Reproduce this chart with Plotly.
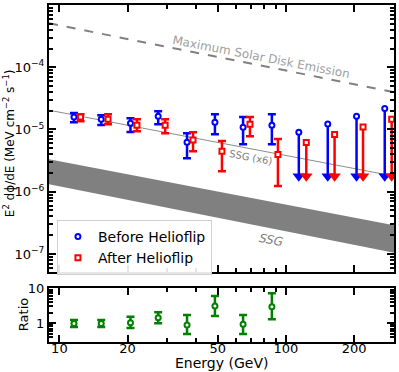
import plotly.graph_objects as go
from plotly.subplots import make_subplots

# energies (GeV)
energy_before = [11.6, 15.3, 20.6, 27.3, 36.6, 48.6, 64.7, 86.7]
energy_after = [12.4, 16.4, 22.0, 29.3, 38.9, 52.2, 69.4, 92.2]
energy_before_ul = [114, 153, 205, 273]
energy_after_ul = [123, 164, 219, 293]

# E^2 dphi/dE (MeV cm^-2 s^-1)
before_flux = [1.58e-5, 1.46e-5, 1.26e-5, 1.63e-5, 6.25e-6, 1.31e-5, 1.09e-5, 1.17e-5]
before_hi = [1.84e-5, 1.70e-5, 1.52e-5, 1.97e-5, 8.7e-6, 1.76e-5, 1.58e-5, 1.76e-5]
before_lo = [1.31e-5, 1.18e-5, 9.1e-6, 1.21e-5, 3.46e-6, 8.4e-6, 5.8e-6, 5.8e-6]
before_ul = [9.0e-6, 1.22e-5, 1.63e-5, 2.17e-5]

after_flux = [1.58e-5, 1.46e-5, 1.17e-5, 1.17e-5, 6.75e-6, 4.46e-6, 1.21e-5, 3.98e-6]
after_hi = [1.76e-5, 1.76e-5, 1.46e-5, 1.46e-5, 9.06e-6, 6.5e-6, 1.58e-5, 7.0e-6]
after_lo = [1.36e-5, 1.21e-5, 9.4e-6, 8.7e-6, 4.46e-6, 2.14e-6, 7.8e-6, 1.23e-6]
after_ul = [6.18e-6, 8.3e-6, 1.10e-5, 1.46e-5]
ul_arrow_end = 1.78e-6

# ratio panel
ratio = [0.97, 0.97, 1.02, 1.42, 0.88, 3.06, 0.92, 2.9]
ratio_hi = [1.22, 1.22, 1.51, 2.02, 1.69, 5.9, 1.69, 7.06]
ratio_lo = [0.77, 0.77, 0.72, 0.98, 0.485, 1.58, 0.485, 1.28]

# model curves, given at the ends of the energy range
curve_energy = [9, 300]
max_disk = [5.08e-4, 3.98e-5]
ssg_x6 = [2.04e-5, 1.78e-6]
ssg_upper = [3.33e-6, 2.9e-7]
ssg_lower = [1.32e-6, 1.05e-7]

FONT = "DejaVu Sans"

fig = make_subplots(rows=2, cols=1, shared_xaxes=True)

# SSG band
fig.add_trace(go.Scatter(x=curve_energy, y=ssg_lower, mode="lines", line=dict(width=0),
                         showlegend=False, hoverinfo="skip"), row=1, col=1)
fig.add_trace(go.Scatter(x=curve_energy, y=ssg_upper, mode="lines", line=dict(width=0),
                         fill="tonexty", fillcolor="#808080", showlegend=False,
                         hoverinfo="skip"), row=1, col=1)
fig.add_trace(go.Scatter(x=curve_energy, y=ssg_x6, mode="lines",
                         line=dict(color="#8c8c8c", width=1), showlegend=False), row=1, col=1)
fig.add_trace(go.Scatter(x=curve_energy, y=max_disk, mode="lines",
                         line=dict(color="#808080", width=2, dash="dash"), showlegend=False),
              row=1, col=1)


def points(x, y, hi, lo, color, symbol, name, legend=True):
    return go.Scatter(
        x=x, y=y, mode="markers", name=name, showlegend=legend,
        marker=dict(symbol=symbol, size=5, color="white", line=dict(color=color, width=2)),
        error_y=dict(type="data", symmetric=False,
                     array=[h - v for h, v in zip(hi, y)],
                     arrayminus=[v - l for v, l in zip(y, lo)],
                     color=color, thickness=2.5, width=4),
    )


def upper_limits(x, y, color, symbol):
    stem = go.Scatter(
        x=x, y=y, mode="markers", showlegend=False,
        marker=dict(symbol=symbol, size=5, color="white", line=dict(color=color, width=2)),
        error_y=dict(type="data", symmetric=False, array=[0] * len(y),
                     arrayminus=[v - ul_arrow_end for v in y],
                     color=color, thickness=2.5, width=0),
    )
    head = go.Scatter(
        x=x, y=[ul_arrow_end] * len(x), mode="markers", showlegend=False,
        marker=dict(symbol="triangle-down", size=11, color=color, line=dict(width=0)),
    )
    return [stem, head]


for t in upper_limits(energy_before_ul, before_ul, "#0000ff", "circle"):
    fig.add_trace(t, row=1, col=1)
for t in upper_limits(energy_after_ul, after_ul, "#ff0000", "square"):
    fig.add_trace(t, row=1, col=1)

fig.add_trace(points(energy_before, before_flux, before_hi, before_lo, "#0000ff", "circle",
                     "Before Helioflip"), row=1, col=1)
fig.add_trace(points(energy_after, after_flux, after_hi, after_lo, "#ff0000", "square",
                     "After Helioflip"), row=1, col=1)
fig.add_trace(points(energy_before, ratio, ratio_hi, ratio_lo, "#008000", "circle",
                     "Ratio", legend=False), row=2, col=1)

# ticks
x_major = [10, 20, 50, 100, 200]
x_minor = [9, 30, 40, 60, 70, 80, 90, 300]
y_major = [1e-4, 1e-5, 1e-6, 1e-7]
y_major_text = ["10<sup>−4</sup>", "10<sup>−5</sup>", "10<sup>−6</sup>", "10<sup>−7</sup>"]
y_minor = [m * 10.0 ** e for e in range(-8, -3) for m in range(2, 10)]
r_major = [1, 10]
r_minor = [0.3, 0.4, 0.5, 0.6, 0.7, 0.8, 0.9, 2, 3, 4, 5, 6, 7, 8, 9]

axis_common = dict(showline=True, linewidth=2, linecolor="black", mirror="allticks",
                   ticks="inside", ticklen=7, tickwidth=1.5, tickcolor="black",
                   showgrid=False, zeroline=False, automargin=False,
                   tickfont=dict(family=FONT, size=13, color="black"))

fig.update_xaxes(type="log", range=[0.9542, 2.4771], tickmode="array", tickvals=x_major,
                 ticktext=[str(v) for v in x_major],
                 minor=dict(tickvals=x_minor, ticks="inside", ticklen=4, tickcolor="black",
                            showgrid=False),
                 **axis_common)
fig.update_xaxes(showticklabels=False, row=1, col=1)
fig.update_xaxes(ticklabelstandoff=-7, row=2, col=1)

fig.update_yaxes(type="log", range=[-7.29, -3.0], tickmode="array", tickvals=y_major,
                 ticktext=y_major_text,
                 minor=dict(tickvals=y_minor, ticks="inside", ticklen=4, tickcolor="black",
                            showgrid=False),
                 row=1, col=1, **axis_common)
fig.update_yaxes(type="log", range=[-0.54, 1.0], tickmode="array", tickvals=r_major,
                 ticktext=["1", "10"],
                 minor=dict(tickvals=r_minor, ticks="inside", ticklen=4, tickcolor="black",
                            showgrid=False),
                 row=2, col=1, **axis_common)

fig.update_layout(
    width=399, height=372,
    margin=dict(l=49, r=5, t=5, b=30),
    paper_bgcolor="white", plot_bgcolor="white",
    font=dict(family=FONT, size=12, color="black"),
    xaxis=dict(domain=[0, 1]), xaxis2=dict(domain=[0, 1]),
    yaxis=dict(domain=[0.2077, 1.0]), yaxis2=dict(domain=[0.0, 0.1602]),
    legend=dict(x=0.023, y=0.362, xanchor="left", yanchor="top", traceorder="normal",
                bgcolor="rgba(255,255,255,0.9)", bordercolor="#d0d0d0", borderwidth=1,
                font=dict(family=FONT, size=14, color="black"),
                itemsizing="trace", tracegroupgap=0),
    annotations=[
        dict(x=1.89, y=-3.84, xref="x", yref="y", text="Maximum Solar Disk Emission",
             showarrow=False, textangle=11, font=dict(family=FONT, size=12, color="#a0a0a0")),
        dict(x=1.846, y=-5.445, xref="x", yref="y", text="SSG (x6)",
             showarrow=False, textangle=11, font=dict(family=FONT, size=10, color="#808080")),
        dict(x=1.934, y=-6.777, xref="x", yref="y", text="<i>SSG</i>",
             showarrow=False, textangle=11, font=dict(family=FONT, size=12, color="#808080")),
        # axis titles
        dict(x=0.5, y=-0.0623, xref="paper", yref="paper", text="Energy (GeV)",
             showarrow=False, xanchor="center", yanchor="middle",
             font=dict(family=FONT, size=14, color="black")),
        dict(x=-0.116, y=0.59, xref="paper", yref="paper",
             text="E<sup>2</sup> dϕ/dE (MeV cm<sup>−2</sup> s<sup>−1</sup>)",
             showarrow=False, textangle=-90, xanchor="center", yanchor="middle",
             font=dict(family=FONT, size=12, color="black")),
        dict(x=-0.075, y=0.08, xref="paper", yref="paper", text="Ratio",
             showarrow=False, textangle=-90, xanchor="center", yanchor="middle",
             font=dict(family=FONT, size=13, color="black")),
    ],
)

# drop the default page margin so the figure sits at the window's top-left corner
fig.write_html("out.html", config={"displayModeBar": False},
               post_script="document.body.style.margin = '0';")
